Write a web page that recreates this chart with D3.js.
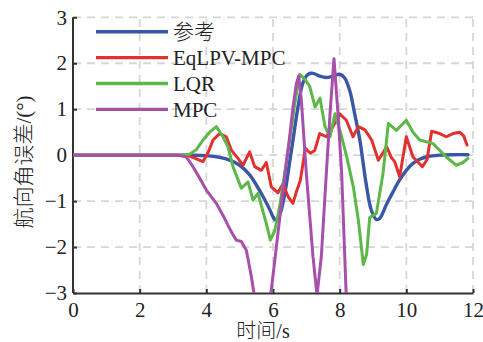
<!DOCTYPE html>
<html><head><meta charset="utf-8">
<script src="https://cdn.jsdelivr.net/npm/d3@7/dist/d3.min.js"></script>
<style>body{margin:0;background:#fff}svg{display:block}</style>
</head><body>
<svg id="c" width="483" height="342"></svg>
<script>
const xTicks = [0, 2, 4, 6, 8, 10, 12];
const yTicks = [-3, -2, -1, 0, 1, 2, 3];
const seriesNames = ["参考", "EqLPV-MPC", "LQR", "MPC"];
const seriesColors = ["#3a56a5", "#e2302f", "#5cb848", "#a64fab"];

const refData = [[0,0],[3.0,0],[3.5,0],[4.0,-0.01],[4.4,-0.05],[4.7,-0.11],[5.0,-0.22],[5.3,-0.43],[5.5,-0.65],[5.7,-0.9],[5.9,-1.18],[6.0,-1.34],[6.08,-1.42],[6.2,-1.3],[6.35,-0.85],[6.5,-0.15],[6.6,0.33],[6.75,1.05],[6.9,1.58],[7.05,1.76],[7.2,1.78],[7.4,1.72],[7.6,1.69],[7.8,1.72],[8.0,1.76],[8.15,1.68],[8.3,1.41],[8.45,0.9],[8.6,0.35],[8.8,-0.65],[8.95,-1.2],[9.1,-1.4],[9.2,-1.38],[9.4,-1.08],[9.6,-0.8],[9.8,-0.54],[10.0,-0.33],[10.2,-0.18],[10.4,-0.09],[10.6,-0.04],[11.0,0.0],[11.4,0.01],[11.85,0.01]];

const lpvData = [[0,0],[3.3,0],[3.5,-0.02],[3.7,-0.08],[3.9,-0.14],[4.05,0.05],[4.2,0.33],[4.4,0.47],[4.6,0.4],[4.75,0.11],[4.95,-0.07],[5.1,-0.22],[5.3,0.07],[5.45,-0.25],[5.65,-0.33],[5.8,-0.16],[5.95,-0.69],[6.15,-0.82],[6.3,-0.62],[6.45,-0.9],[6.6,-1.05],[6.7,-0.8],[6.82,-0.55],[6.97,0.15],[7.12,0.04],[7.25,0.1],[7.4,0.47],[7.6,0.4],[7.8,0.62],[8.0,0.9],[8.2,0.76],[8.4,0.4],[8.56,0.62],[8.76,0.55],[8.96,0.33],[9.16,-0.11],[9.41,0.18],[9.55,-0.05],[9.65,-0.14],[9.8,-0.47],[10.0,0.4],[10.2,-0.04],[10.48,-0.25],[10.62,-0.1],[10.76,0.52],[11.0,0.47],[11.2,0.4],[11.4,0.47],[11.6,0.5],[11.72,0.42],[11.82,0.22]];

const lqrData = [[0,0],[3.3,0],[3.5,0.02],[3.7,0.12],[3.9,0.33],[4.1,0.5],[4.3,0.62],[4.5,0.4],[4.65,0.18],[4.8,-0.25],[5.05,-0.72],[5.25,-0.58],[5.4,-0.98],[5.55,-0.83],[5.8,-1.49],[5.92,-1.85],[6.05,-1.65],[6.2,-1.12],[6.35,-0.4],[6.5,0.33],[6.65,1.1],[6.8,1.76],[6.95,1.66],[7.1,1.5],[7.26,1.05],[7.41,1.24],[7.56,0.62],[7.71,0.4],[7.86,0.9],[8.06,0.4],[8.2,0.0],[8.41,-0.69],[8.56,-1.41],[8.71,-2.38],[8.81,-2.15],[8.9,-1.36],[9.1,-1.27],[9.3,-0.4],[9.46,0.69],[9.7,0.54],[10.0,0.76],[10.2,0.5],[10.4,0.33],[10.8,0.25],[11.2,-0.04],[11.5,-0.22],[11.7,-0.16],[11.85,-0.07]];

const mpcData = [[0,0],[3.0,0],[3.2,-0.01],[3.4,-0.04],[3.6,-0.25],[3.8,-0.5],[4.0,-0.76],[4.3,-1.05],[4.55,-1.38],[4.75,-1.67],[4.9,-1.85],[5.05,-1.88],[5.2,-2.07],[5.35,-2.64],[5.45,-3.1],[5.55,-3.5],[5.7,-3.6],[5.85,-3.3],[5.95,-2.93],[6.1,-2.0],[6.3,-0.76],[6.5,0.4],[6.6,1.05],[6.7,1.55],[6.77,1.72],[6.85,1.2],[7.0,-0.4],[7.2,-2.21],[7.32,-3.05],[7.45,-2.2],[7.6,-0.4],[7.72,1.0],[7.83,2.1],[7.95,0.9],[8.06,-0.4],[8.19,-2.93],[8.3,-4.0]];

const allData = [refData, lpvData, lqrData, mpcData];

const W = 483, H = 342;
const m = {l: 73, r: 10, t: 17.3, b: 49};
const x = d3.scaleLinear().domain([0, 12]).range([m.l, W - m.r]);
const y = d3.scaleLinear().domain([-3, 3]).range([H - m.b, m.t]);

const svg = d3.select("#c");
const font = "'Liberation Serif','Times New Roman','Noto Sans CJK SC',serif";

svg.append("defs").append("clipPath").attr("id", "clip")
  .append("rect").attr("x", x(0)).attr("y", y(3)).attr("width", x(12) - x(0)).attr("height", y(-3) - y(3));

// grid
const grid = svg.append("g").attr("stroke", "#d6d6d6").attr("stroke-width", 1.8).attr("stroke-dasharray", "8,6");
xTicks.filter(t => t > 0).forEach(t => grid.append("line").attr("x1", x(t)).attr("x2", x(t)).attr("y1", y(-3)).attr("y2", y(3)));
yTicks.filter(t => t > -3).forEach(t => grid.append("line").attr("x1", x(0)).attr("x2", x(12)).attr("y1", y(t)).attr("y2", y(t)));

// axes
const xAxis = svg.append("g").attr("transform", `translate(0,${y(-3)})`)
  .call(d3.axisBottom(x).tickValues(xTicks).tickSizeInner(-4).tickSizeOuter(0).tickPadding(9).tickFormat(d3.format("d")));
const yAxis = svg.append("g").attr("transform", `translate(${x(0)},0)`)
  .call(d3.axisLeft(y).tickValues(yTicks).tickSizeInner(-4).tickSizeOuter(0).tickPadding(6).tickFormat(d3.format("d")));
[xAxis, yAxis].forEach(a => {
  a.select(".domain").attr("stroke", "#333").attr("stroke-width", 2);
  a.selectAll(".tick line").attr("stroke", "#333").attr("stroke-width", 2);
  a.selectAll("text").attr("font-family", font).attr("font-size", 21).attr("fill", "#222");
});
yAxis.select(".domain").attr("d", `M0,${y(3)}H0V${y(-3)}`);

// lines
const plot = svg.append("g").attr("clip-path", "url(#clip)");
const line = d3.line().x(d => x(d[0])).y(d => y(d[1]));
allData.forEach((data, i) => {
  plot.append("path").datum(data)
    .attr("fill", "none").attr("stroke", seriesColors[i])
    .attr("stroke-width", i === 0 ? 3.4 : 3).attr("stroke-linejoin", "round").attr("stroke-linecap", "round")
    .attr("d", i === 0 ? line.curve(d3.curveCatmullRom)(data) : line.curve(d3.curveLinear)(data));
});

// legend
const lg = svg.append("g");
seriesNames.forEach((n, i) => {
  const yy = 31.7 + i * 25.9;
  lg.append("line").attr("x1", 96).attr("x2", 168).attr("y1", yy).attr("y2", yy)
    .attr("stroke", seriesColors[i]).attr("stroke-width", 3.4);
  lg.append("text").attr("x", 173).attr("y", yy).attr("dy", "0.35em")
    .attr("font-family", font).attr("font-size", 21).attr("font-weight", i === 0 ? 300 : 400)
    .attr("fill", "#222").text(n);
});

// axis titles
svg.append("text").attr("x", x(6) - 10).attr("y", 338).attr("text-anchor", "middle")
  .attr("font-family", font).attr("font-size", 20).attr("font-weight", 300).attr("fill", "#222").text("时间/s");
svg.append("text").attr("transform", `translate(31,${162}) rotate(-90)`).attr("text-anchor", "middle")
  .attr("font-family", font).attr("font-size", 21).attr("font-weight", 300).attr("fill", "#222").text("航向角误差/(°)");
</script>
</body></html>
